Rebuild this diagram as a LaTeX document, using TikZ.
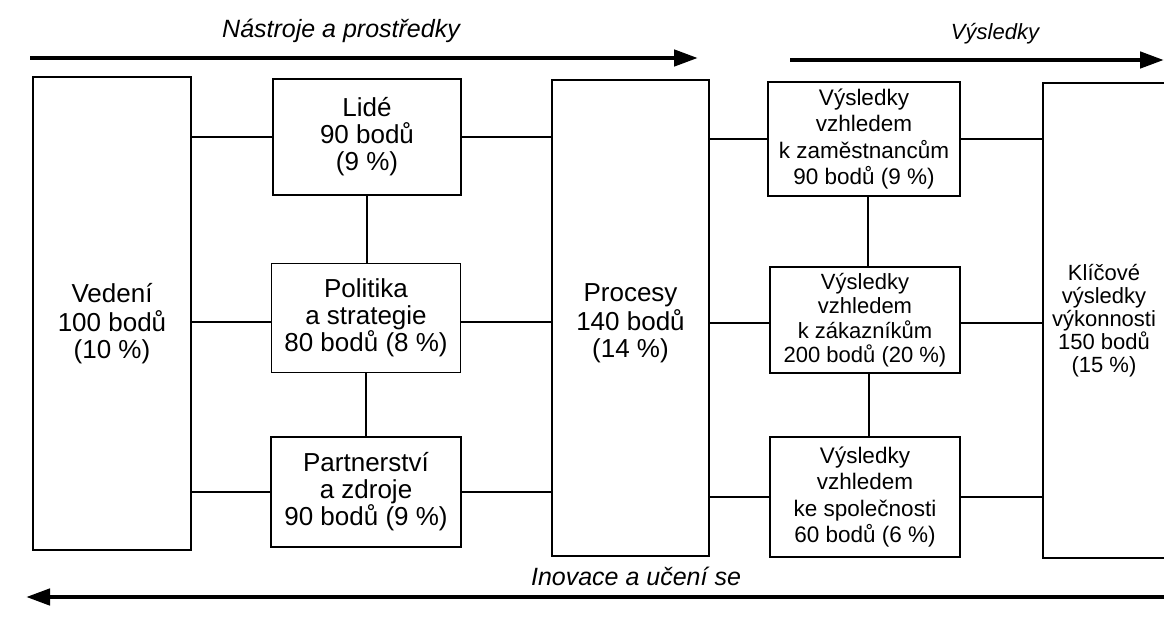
\documentclass[tikz,border=0pt]{standalone}
\usepackage{fontspec}
\setmainfont{Liberation Sans}
\usetikzlibrary{arrows.meta}
% centred lines of text, lowered inside a tall box without changing its size
\newcommand\lowtext[2]{\raisebox{-#1}[0pt][0pt]{\begin{tabular}{@{}c@{}}#2\end{tabular}}}
\begin{document}
\begin{tikzpicture}[x=1pt,y=-1pt,
  box/.style={draw, line width=1.8pt, rectangle, inner sep=0pt, align=center,
    font=\fontsize{26}{27}\selectfont},
  resbox/.style={box, font=\fontsize{22.5}{26.5}\selectfont},
  link/.style={line width=1.8pt},
  flow/.style={line width=4.5pt, -{Triangle[length=24pt,width=16pt]}},
  flowlabel/.style={font=\fontsize{25}{27}\selectfont\itshape}]
\useasboundingbox (0,0) rectangle (1164,631);
\clip (0,0) rectangle (1164,631);

% enablers
\node[box, minimum width=158, minimum height=473] (ved) at (112,313.5)
  {\lowtext{18pt}{Vedení\\100 bodů\\(10 \%)}};
\node[box, minimum width=188, minimum height=116] (lide) at (367,137)
  {Lidé\\90 bodů\\(9 \%)};
\node[box, minimum width=189, minimum height=109] (pol) at (366,318)
  {Politika\\a strategie\\80 bodů (8 \%)};
\node[box, minimum width=190, minimum height=110] (part) at (366,492)
  {Partnerství\\a zdroje\\90 bodů (9 \%)};
\node[box, minimum width=157, minimum height=476] (proc) at (630.5,318)
  {\lowtext{12pt}{Procesy\\140 bodů\\(14 \%)}};

% results
\node[resbox, minimum width=192, minimum height=114] (zam) at (864,139)
  {Výsledky\\vzhledem\\k zaměstnancům\\90 bodů (9 \%)};
\node[resbox, minimum width=190, minimum height=106, font=\fontsize{22}{24.5}\selectfont]
  (zak) at (865,320)
  {Výsledky\\vzhledem\\k zákazníkům\\200 bodů (20 \%)};
\node[resbox, minimum width=190, minimum height=120] (spol) at (865,497)
  {Výsledky\\vzhledem\\ke společnosti\\60 bodů (6 \%)};
\node[box, minimum width=122, minimum height=475, font=\fontsize{22}{23}\selectfont]
  (klic) at (1104,320.5)
  {Klíčové\\výsledky\\výkonnosti\\150 bodů\\(15 \%)};

% horizontal links
\draw[link] (ved.east |- lide.west) -- (lide.west);
\draw[link] (lide.east) -- (lide.east -| proc.west);
\draw[link] ([yshift=-4pt]ved.east |- pol.west) -- ([yshift=-4pt]pol.west);
\draw[link] ([yshift=-4pt]pol.east) -- ([yshift=-4pt]pol.east -| proc.west);
\draw[link] (ved.east |- part.west) -- (part.west);
\draw[link] (part.east) -- (part.east -| proc.west);
\draw[link] (proc.east |- zam.west) -- (zam.west);
\draw[link] (zam.east) -- (zam.east -| klic.west);
\draw[link] ([yshift=-3pt]proc.east |- zak.west) -- ([yshift=-3pt]zak.west);
\draw[link] ([yshift=-3pt]zak.east) -- ([yshift=-3pt]zak.east -| klic.west);
\draw[link] (proc.east |- spol.west) -- (spol.west);
\draw[link] (spol.east) -- (spol.east -| klic.west);

% vertical links
\draw[link] (lide.south) -- (lide.south |- pol.north);
\draw[link] (pol.south) -- (pol.south |- part.north);
\draw[link] ([xshift=4pt]zam.south) -- ([xshift=4pt]zam.south |- zak.north);
\draw[link] ([xshift=4pt]zak.south) -- ([xshift=4pt]zak.south |- spol.north);

% flow arrows
\coordinate (a1s) at (30,58);
\coordinate (a1e) at (698,58);
\coordinate (a2s) at (790,60);
\coordinate (a2e) at (1164,60);
\coordinate (a3s) at (1175,597);
\coordinate (a3e) at (26,597);
\draw[flow] (a1s) -- (a1e);
\draw[flow] (a2s) -- (a2e);
\draw[flow] (a3s) -- (a3e);
\node[flowlabel] (l1) at (341,31) {Nástroje a prostředky};
\node[flowlabel, font=\fontsize{22}{24}\selectfont\itshape] (l2) at (995,34) {Výsledky};
\node[flowlabel] (l3) at (636,576) {Inovace a učení se};
\end{tikzpicture}
\end{document}
